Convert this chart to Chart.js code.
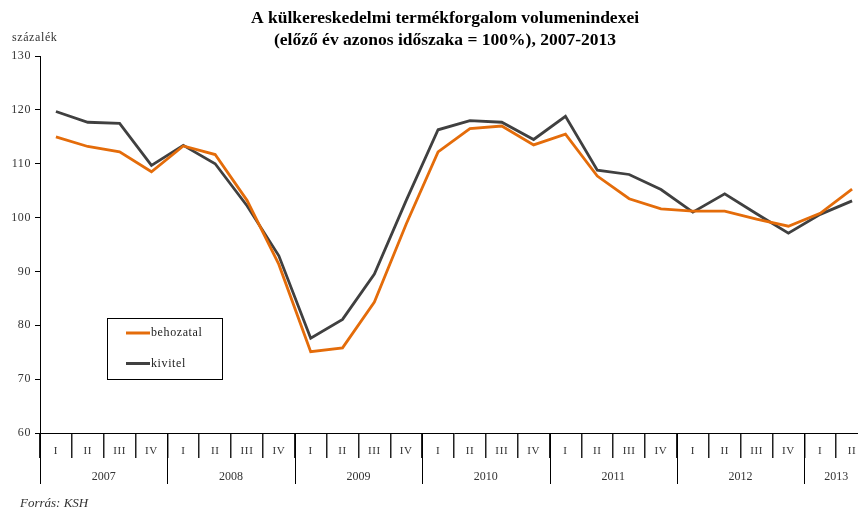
<!DOCTYPE html>
<html lang="hu">
<head>
<meta charset="utf-8">
<title>Külkereskedelmi volumenindexek</title>
<script src="https://cdn.jsdelivr.net/npm/chart.js@4.4.1/dist/chart.umd.min.js"></script>
<style>
  html, body { margin: 0; padding: 0; background: #fff; overflow: hidden; }
  #wrap { width: 890px; height: 511px; position: relative; }
</style>
</head>
<body>
<div id="wrap"><canvas id="chart"></canvas></div>
<script>
// negyedévek és évek
const quarters = ['I', 'II', 'III', 'IV', 'I', 'II', 'III', 'IV', 'I', 'II', 'III', 'IV',
  'I', 'II', 'III', 'IV', 'I', 'II', 'III', 'IV', 'I', 'II', 'III', 'IV', 'I', 'II'];
const years = ['2007', '2008', '2009', '2010', '2011', '2012', '2013'];

// volumenindexek, előző év azonos időszaka = 100%
const behozatal = [115.0, 113.2, 112.2, 108.5, 113.3, 111.7, 103.2, 91.3, 75.1, 75.8, 84.3, 98.8,
  112.2, 116.5, 117.0, 113.5, 115.5, 107.7, 103.5, 101.6, 101.2, 101.2, 99.7, 98.4, 100.8, 105.3];
const kivitel = [119.7, 117.7, 117.5, 109.7, 113.4, 110.0, 102.2, 92.9, 77.6, 81.1, 89.5, 103.2,
  116.3, 118.0, 117.7, 114.5, 118.8, 108.8, 108.0, 105.2, 101.0, 104.4, 100.7, 97.1, 100.6, 103.1];

const titleLines = ['A külkereskedelmi termékforgalom volumenindexei',
  '(előző év azonos időszaka = 100%), 2007-2013'];

const SERIF = '"Liberation Serif", "DejaVu Serif", serif';

// cím, évsor, jelmagyarázat és forrás rajzolása
const extras = {
  id: 'extras',
  beforeDraw(chart) {
    chart.ctx.letterSpacing = '0.6px';
  },
  afterDraw(chart) {
    const ctx = chart.ctx;
    const x = chart.scales.x;
    const area = chart.chartArea;
    const half = (x.getPixelForValue(1) - x.getPixelForValue(0)) / 2;
    ctx.save();

    ctx.letterSpacing = '0px';
    ctx.fillStyle = '#000';
    ctx.textAlign = 'center';
    ctx.textBaseline = 'alphabetic';
    ctx.font = 'bold 17.5px ' + SERIF;
    ctx.fillText(titleLines[0], 445, 23);
    ctx.fillText(titleLines[1], 445, 45);

    ctx.letterSpacing = '0.6px';
    ctx.fillStyle = '#333';
    ctx.textAlign = 'left';
    ctx.font = '12px ' + SERIF;
    ctx.fillText('százalék', 12, 41);

    // évek elválasztói és feliratai
    ctx.strokeStyle = '#000';
    ctx.lineWidth = 1;
    ctx.letterSpacing = '0px';
    ctx.font = '12px ' + SERIF;
    ctx.textAlign = 'center';
    years.forEach((yr, k) => {
      const first = 4 * k;
      const last = Math.min(first + 3, quarters.length - 1);
      const left = Math.round(x.getPixelForValue(first) - half) + 0.5;
      ctx.beginPath();
      ctx.moveTo(left, area.bottom);
      ctx.lineTo(left, 484);
      ctx.stroke();
      const mid = (x.getPixelForValue(first) + x.getPixelForValue(last)) / 2;
      ctx.fillText(yr, mid, 480);
    });

    ctx.font = 'italic 13px ' + SERIF;
    ctx.textAlign = 'left';
    ctx.fillText('Forrás: KSH', 20, 507);

    // jelmagyarázat
    ctx.strokeRect(107.5, 318.5, 115, 61);
    ctx.letterSpacing = '0.6px';
    ctx.font = '12px ' + SERIF;
    ctx.textBaseline = 'middle';
    chart.data.datasets.forEach((ds, i) => {
      const ly = 333 + i * 30.5;
      ctx.strokeStyle = ds.borderColor;
      ctx.lineWidth = 3;
      ctx.beginPath();
      ctx.moveTo(126, ly);
      ctx.lineTo(150, ly);
      ctx.stroke();
      ctx.fillStyle = '#222';
      ctx.fillText(ds.label, 151, ly);
    });
    ctx.restore();
  }
};

new Chart(document.getElementById('chart'), {
  type: 'line',
  data: {
    labels: quarters,
    datasets: [
      { label: 'behozatal', data: behozatal, borderColor: '#E46C0A', borderWidth: 2.8, pointRadius: 0, tension: 0 },
      { label: 'kivitel', data: kivitel, borderColor: '#404040', borderWidth: 2.8, pointRadius: 0, tension: 0 }
    ]
  },
  options: {
    responsive: true,
    maintainAspectRatio: false,
    animation: false,
    layout: { padding: { top: 56, right: 22, left: 0, bottom: 0 } },
    plugins: { legend: { display: false }, title: { display: false }, tooltip: { enabled: false } },
    scales: {
      x: {
        offset: true,
        afterFit(scale) { scale.height = 78; },
        border: { display: true, color: '#000', width: 1 },
        grid: { offset: true, drawOnChartArea: false, drawTicks: true, tickLength: 25, color: '#222', lineWidth: 1.5 },
        ticks: { autoSkip: false, maxRotation: 0, padding: -13, color: '#333', font: { family: SERIF, size: 11 } }
      },
      y: {
        min: 60,
        max: 130,
        afterFit(scale) { scale.width = 40; },
        border: { display: true, color: '#000', width: 1 },
        grid: { drawOnChartArea: false, tickLength: 5, color: '#000' },
        ticks: { stepSize: 10, padding: 4, color: '#333', font: { family: SERIF, size: 12 } }
      }
    }
  },
  plugins: [extras]
});
</script>
</body>
</html>
